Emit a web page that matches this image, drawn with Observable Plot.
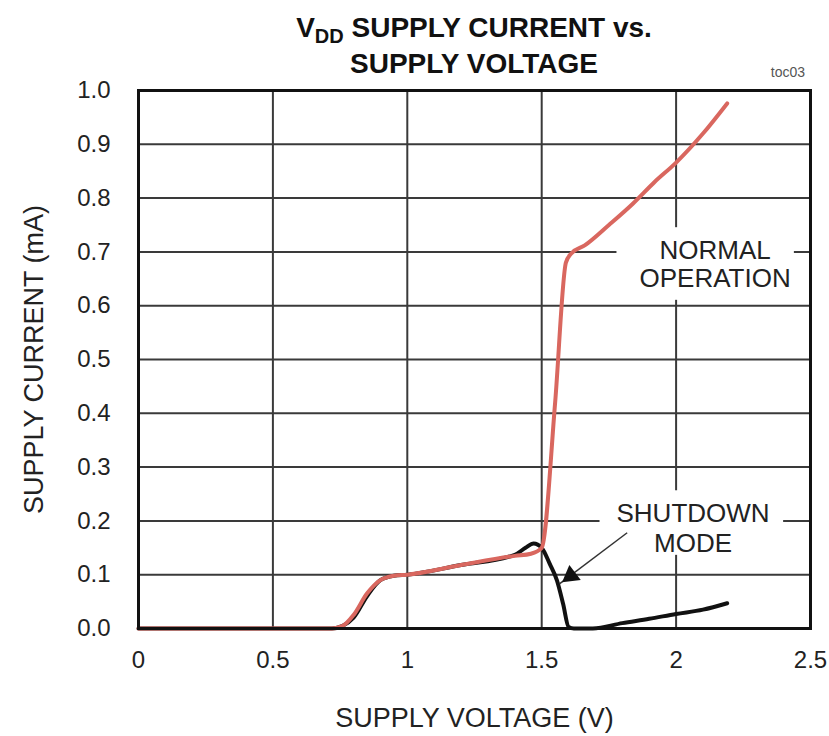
<!DOCTYPE html>
<html>
<head>
<meta charset="utf-8">
<script src="https://cdn.jsdelivr.net/npm/d3@7"></script>
<script src="https://cdn.jsdelivr.net/npm/@observablehq/plot@0.6"></script>
<style>
  body { margin: 0; background: #fff; }
  #wrap { position: relative; width: 829px; height: 736px; font-family: "Liberation Sans", Arial, sans-serif; }
  #title { position: absolute; left: 138px; width: 672px; top: 10px; text-align: center; font-weight: bold; font-size: 28px; line-height: 36px; color: #111; }
  #title sub { font-size: 20px; vertical-align: -6px; line-height: 0; }
  #toc { position: absolute; right: 24px; top: 64px; font-size: 14px; color: #555; }
  #chart { position: absolute; left: 0; top: 0; }
</style>
</head>
<body>
<div id="wrap">
  <div id="chart"></div>
  <div id="title">V<sub>DD</sub> SUPPLY CURRENT vs.<br>SUPPLY VOLTAGE</div>
  <div id="toc">toc03</div>
</div>
<script>
// Supply voltage (V) and current (mA)
const normalV = [0, 0.72, 0.76, 0.8, 0.85, 0.9, 0.95, 1.0, 1.2, 1.4, 1.46, 1.5, 1.55, 1.59, 1.61, 1.66, 1.75, 1.84, 1.92, 2.0, 2.1, 2.19];
const normalI = [0, 0, 0.005, 0.025, 0.065, 0.09, 0.098, 0.1, 0.118, 0.135, 0.139, 0.15, 0.42, 0.68, 0.697, 0.712, 0.75, 0.79, 0.83, 0.866, 0.92, 0.976];
const shutdownV = [0, 0.72, 0.76, 0.8, 0.85, 0.9, 0.95, 1.0, 1.2, 1.4, 1.44, 1.47, 1.5, 1.53, 1.557, 1.58, 1.6, 1.62, 1.69, 1.8, 1.9, 2.0, 2.1, 2.19];
const shutdownI = [0, 0, 0.005, 0.02, 0.06, 0.09, 0.098, 0.1, 0.118, 0.137, 0.15, 0.158, 0.15, 0.12, 0.089, 0.045, 0.003, 0.0, 0.0, 0.01, 0.018, 0.027, 0.035, 0.047];

const xTicks = [0, 0.5, 1, 1.5, 2, 2.5];
const yTicks = [0, 0.1, 0.2, 0.3, 0.4, 0.5, 0.6, 0.7, 0.8, 0.9, 1.0];
const xGrid = [0.5, 1, 1.5, 2];
const yGrid = [0.1, 0.2, 0.3, 0.4, 0.5, 0.6, 0.7, 0.8, 0.9];

const labels = [
  {x: 2.145, y: 0.703, text: "NORMAL"},
  {x: 2.145, y: 0.651, text: "OPERATION"},
  {x: 2.063, y: 0.214, text: "SHUTDOWN"},
  {x: 2.063, y: 0.158, text: "MODE"}
];
const labelBoxes = [
  {x1: 1.78, x2: 2.44, y1: 0.61, y2: 0.745},
  {x1: 1.717, x2: 2.40, y1: 0.136, y2: 0.256}
];
const arrowLine = [{x1: 1.818, y1: 0.178, x2: 1.566, y2: 0.083}];
const arrowHead = [{x: 1.608, y: 0.098}];

const normal = normalV.map((v, i) => ({v, c: normalI[i]}));
const shutdown = shutdownV.map((v, i) => ({v, c: shutdownI[i]}));

const font = "'Liberation Sans', Arial, sans-serif";
const chart = Plot.plot({
  width: 829,
  height: 736,
  marginLeft: 138,
  marginRight: 19,
  marginTop: 90,
  marginBottom: 108,
  style: {fontFamily: font, color: "#222", background: "transparent"},
  x: {domain: [0, 2.5]},
  y: {domain: [0, 1]},
  marks: [
    Plot.gridX(xGrid, {stroke: "#3a3a3a", strokeOpacity: 1, strokeWidth: 2}),
    Plot.gridY(yGrid, {stroke: "#3a3a3a", strokeOpacity: 1, strokeWidth: 2}),
    Plot.rect(labelBoxes, {x1: "x1", x2: "x2", y1: "y1", y2: "y2", fill: "white"}),
    Plot.line(shutdown, {x: "v", y: "c", stroke: "#111", strokeWidth: 4, curve: "monotone-x"}),
    Plot.line(normal, {x: "v", y: "c", stroke: "#d9675f", strokeWidth: 4, curve: "monotone-x"}),
    Plot.link(arrowLine, {x1: "x1", y1: "y1", x2: "x2", y2: "y2", stroke: "#333", strokeWidth: 1.5}),
    Plot.dot(arrowHead, {x: "x", y: "y", symbol: "triangle", r: 7, fill: "#111", stroke: "none", rotate: 232.7}),
    Plot.text(labels, {x: "x", y: "y", text: "text", fontSize: 26, fill: "#222", fontFamily: font}),
    Plot.frame({stroke: "#111", strokeWidth: 3}),
    Plot.axisX({ticks: xTicks, tickFormat: d => String(d), tickSize: 0, tickPadding: 22, fontSize: 24, label: null}),
    Plot.axisX({ticks: [], fontSize: 27, label: "SUPPLY VOLTAGE (V)", labelAnchor: "center", labelArrow: "none", labelOffset: 98}),
    Plot.axisY({ticks: yTicks, tickFormat: d => d.toFixed(1), tickSize: 0, tickPadding: 28, fontSize: 24, label: null}),
    Plot.axisY({ticks: [], fontSize: 27, label: "SUPPLY CURRENT (mA)", labelAnchor: "center", labelArrow: "none", labelOffset: 115})
  ]
});
document.getElementById("chart").appendChild(chart);
</script>
</body>
</html>
